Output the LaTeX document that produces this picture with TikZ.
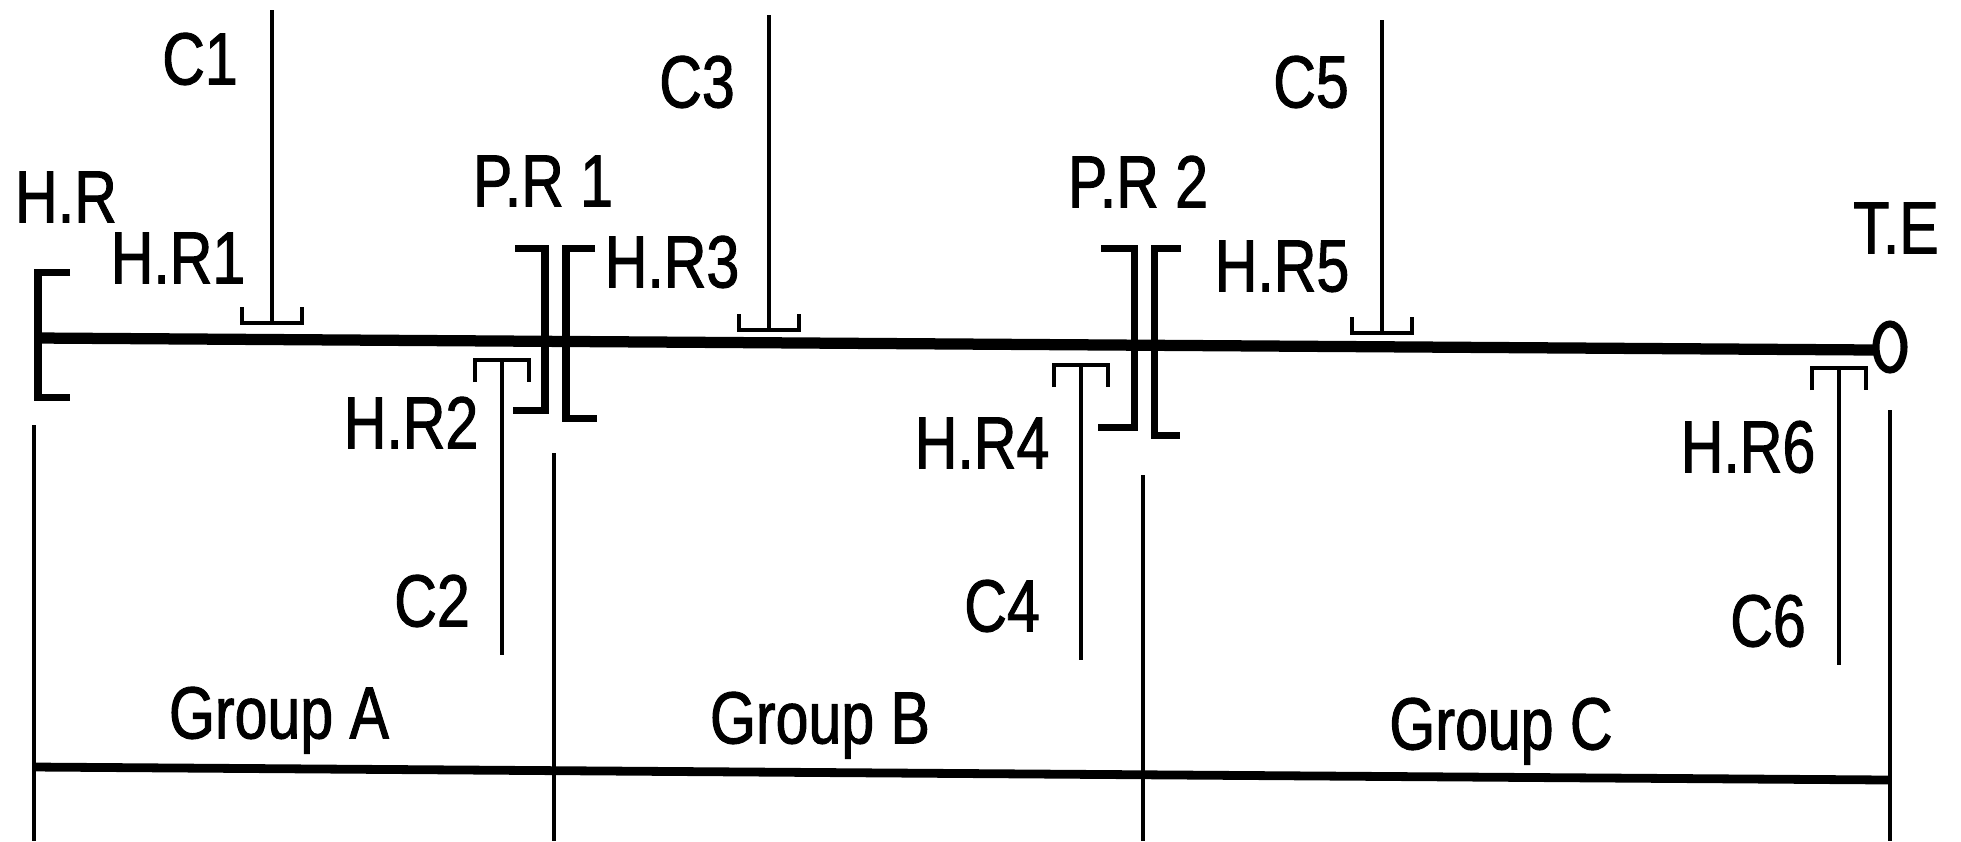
\documentclass[tikz,border=0pt]{standalone}
\usepackage{fontspec}
\setmainfont[FakeStretch=0.8, FakeBold=1.3]{Liberation Sans}

\begin{document}
\begin{tikzpicture}[x=0.01cm, y=-0.01cm,
		lbl/.style={inner sep=0pt, text height=15pt, text depth=0pt, font=\fontsize{21}{24}\selectfont},
		shaft/.style={line width=3.2pt},
		brk/.style={line width=2pt},
		thinline/.style={line width=1.3pt}]
		\useasboundingbox (0,0) rectangle (1961,841);
		% main shaft and end
		\coordinate (hrend) at (38,338);
		\coordinate (teend) at (1876,350);
		\draw[shaft] (hrend) -- (teend);
		\draw[brk] (1890,347) ellipse [x radius=0.14cm, y radius=0.23cm];
		% bearings
		\draw[brk] (70,272) -| (38,397) -- (70,397);
		\draw[brk] (515,248) -| (545,410) -- (513,410);
		\draw[brk] (595,248) -| (566,418) -- (597,418);
		\draw[brk] (1101,248) -| (1134,427) -- (1098,427);
		\draw[brk] (1181,248) -| (1154,435) -- (1180,435);
		% inputs from above
		\foreach \i/\x/\yb/\yt in {1/272/323/10, 3/769/330/15, 5/1382/333/20} {
			\coordinate (top\i) at (\x,\yt);
			\coordinate (cup\i) at (\x,\yb);
			\draw[thinline] (top\i) -- (cup\i);
			\draw[thinline] (\x-30,\yb-16) -- (\x-30,\yb) -- (\x+30,\yb) -- (\x+30,\yb-16);
		}
		% inputs from below
		\foreach \i/\x/\yb/\ye in {2/502/360/655, 4/1081/365/660, 6/1839/368/665} {
			\coordinate (cap\i) at (\x,\yb);
			\coordinate (bot\i) at (\x,\ye);
			\draw[thinline] (\x-27,\yb+22) -- (\x-27,\yb) -- (\x+27,\yb) -- (\x+27,\yb+22);
			\draw[thinline] (cap\i) -- (bot\i);
		}
		% groups
		\foreach \x/\yt in {34/425, 554/453, 1143/475, 1890/410}
			\draw[thinline] (\x,\yt) -- (\x,841);
		\coordinate (gstart) at (34,767);
		\coordinate (gend) at (1890,780);
		\draw[line width=2.5pt] (gstart) -- (gend);
		% labels
		\node[lbl] (hr) at (66,196) {H.R};
		\node[lbl] (hr1) at (178,257) {H.R1};
		\node[lbl] (hr2) at (411,422) {H.R2};
		\node[lbl] (hr3) at (672,261) {H.R3};
		\node[lbl] (hr4) at (982,442) {H.R4};
		\node[lbl] (hr5) at (1282,265) {H.R5};
		\node[lbl] (hr6) at (1748,446) {H.R6};
		\node[lbl] (pr1) at (543,180) {P.R 1};
		\node[lbl] (pr2) at (1138,181) {P.R 2};
		\node[lbl] (te) at (1896,227) {T.E};
		\node[lbl] (c1) at (200,58) {C1};
		\node[lbl] (c2) at (432,600) {C2};
		\node[lbl] (c3) at (697,81) {C3};
		\node[lbl] (c4) at (1002,605) {C4};
		\node[lbl] (c5) at (1311,81) {C5};
		\node[lbl] (c6) at (1768,620) {C6};
		\node[lbl] (ga) at (279,712) {Group A};
		\node[lbl] (gb) at (820,717) {Group B};
		\node[lbl] (gc) at (1501,723) {Group C};
	\end{tikzpicture}
\end{document}
